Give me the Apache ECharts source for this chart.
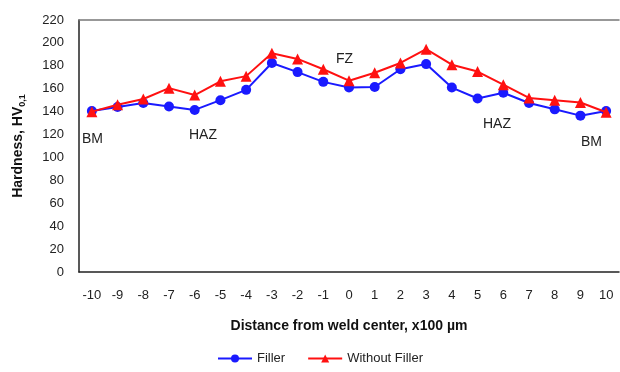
<!DOCTYPE html>
<html>
<head>
    <meta charset="UTF-8"/>
    <script type="text/javascript" src="https://cdn.jsdelivr.net/npm/echarts@6/dist/echarts.min.js"></script>
    <title>Hardness profile</title>
    <style>
        body { margin: 0; background: #fff; }
        #main { width: 620px; height: 372px; }
    </style>
</head>
<body>
<div id="main"></div>
<script type="text/javascript">
    // distance from weld center (x100 um)
    var distances = ['-10', '-9', '-8', '-7', '-6', '-5', '-4', '-3', '-2', '-1', '0',
        '1', '2', '3', '4', '5', '6', '7', '8', '9', '10']
    var filler = [140.5, 144, 147.5, 144.5, 141.5, 150, 159, 182.5, 174.5, 166, 161,
        161.5, 177, 181.5, 161, 151.5, 156.5, 147.5, 142, 136.5, 140.5]
    var withoutFiller = [140, 146, 151, 160.5, 154.5, 166.5, 171, 191, 186, 177, 167,
        174, 182.5, 194.5, 181, 175, 163.5, 152, 150, 148, 139.5]
    var zoneLabels = ['BM', 'HAZ', 'FZ', 'HAZ', 'BM']

    var myChart = echarts.init(document.getElementById('main'))
    var tickFont = '"Liberation Sans Narrow", "Liberation Sans", sans-serif'

    var option = {
        animation: false,
        backgroundColor: '#fff',
        grid: {left: 79, top: 20, right: 1, bottom: 100},
        legend: {
            bottom: 2,
            left: 212,
            itemWidth: 34,
            itemHeight: 10,
            itemGap: 22,
            textStyle: {fontFamily: tickFont, fontSize: 13, color: '#222'},
            data: ['Filler', 'Without Filler']
        },
        xAxis: [{
            type: 'category',
            data: distances,
            boundaryGap: true,
            axisLine: {lineStyle: {color: '#222', width: 1.5}},
            axisTick: {show: false},
            axisLabel: {fontFamily: tickFont, fontSize: 13, color: '#222', margin: 17},
            name: 'Distance from weld center, x100 µm',
            nameLocation: 'middle',
            nameGap: 47,
            nameTextStyle: {fontFamily: 'Liberation Sans', fontWeight: 'bold', fontSize: 14, color: '#111'}
        }, {
            type: 'category',
            data: distances,
            position: 'top',
            axisLine: {lineStyle: {color: '#777', width: 1.5}},
            axisTick: {show: false},
            axisLabel: {show: false}
        }],
        yAxis: {
            type: 'value',
            min: 0,
            max: 220,
            interval: 20,
            splitLine: {show: false},
            axisLine: {show: true, lineStyle: {color: '#222', width: 1.5}},
            axisTick: {show: false},
            axisLabel: {fontFamily: tickFont, fontSize: 13, color: '#222', margin: 15},
            name: '{a|Hardness, HV}{b|0,1}',
            nameLocation: 'middle',
            nameGap: 52,
            nameTextStyle: {
                rich: {
                    a: {fontFamily: 'Liberation Sans', fontWeight: 'bold', fontSize: 14, color: '#111'},
                    b: {fontFamily: 'Liberation Sans', fontWeight: 'bold', fontSize: 9, color: '#111', padding: [8, 0, 0, 0]}
                }
            }
        },
        series: [{
            name: 'Filler',
            type: 'line',
            data: filler,
            symbol: 'circle',
            symbolSize: 10,
            lineStyle: {color: '#1a1aff', width: 2},
            itemStyle: {color: '#1a1aff'},
            z: 2
        }, {
            name: 'Without Filler',
            type: 'line',
            data: withoutFiller,
            symbol: 'triangle',
            symbolSize: 11,
            lineStyle: {color: '#ff1010', width: 2},
            itemStyle: {color: '#ff1010'},
            z: 3
        }],
        graphic: [
            {type: 'text', left: 82, top: 132, style: {text: zoneLabels[0], font: '14px "Liberation Sans"', fill: '#222'}},
            {type: 'text', left: 189, top: 128, style: {text: zoneLabels[1], font: '14px "Liberation Sans"', fill: '#222'}},
            {type: 'text', left: 336, top: 52, style: {text: zoneLabels[2], font: '14px "Liberation Sans"', fill: '#222'}},
            {type: 'text', left: 483, top: 117, style: {text: zoneLabels[3], font: '14px "Liberation Sans"', fill: '#222'}},
            {type: 'text', left: 581, top: 135, style: {text: zoneLabels[4], font: '14px "Liberation Sans"', fill: '#222'}}
        ]
    }
    myChart.setOption(option)
</script>
</body>
</html>
